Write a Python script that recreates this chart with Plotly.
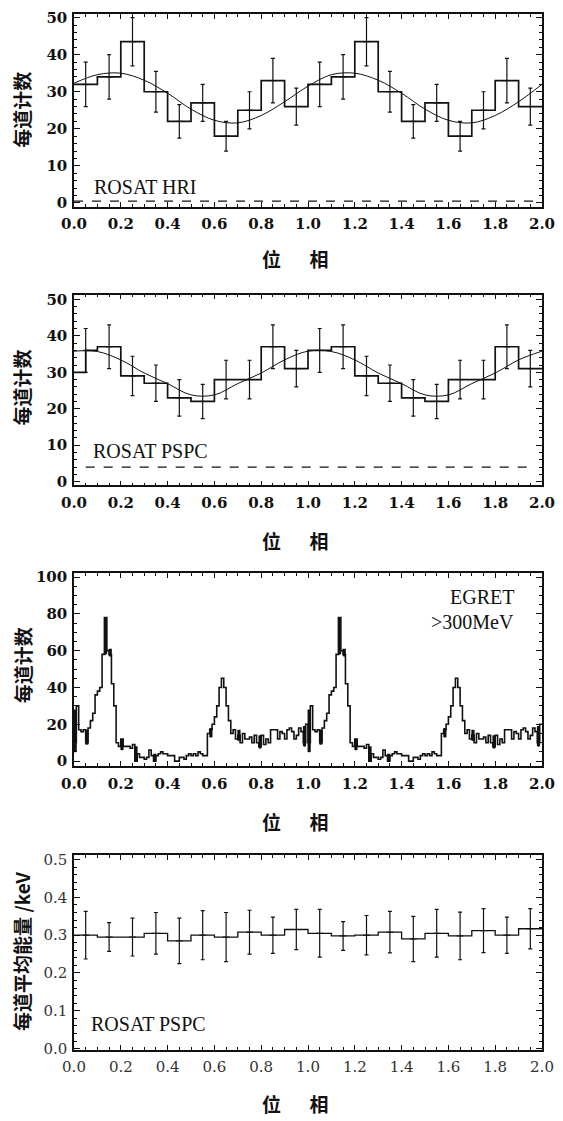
import plotly.graph_objects as go

# ---------------- data ----------------
phase_edges = [round(0.1 * i, 2) for i in range(21)]
phase_centers = [round(0.05 + 0.1 * i, 2) for i in range(20)]

# Panel 1: ROSAT HRI counts per bin (one cycle, repeated)
hri_counts = [32, 34, 43.5, 30, 22, 27, 18, 25, 33, 26]
hri_err = [6, 6, 6.5, 5.5, 4.5, 5, 4, 5, 6, 5]
fit_x = [round(0.1 * i, 2) for i in range(21)]
hri_fit = [32.3, 34.6, 35.0, 33.1, 29.6, 25.3, 22.3, 21.6, 23.6, 27.3, 31.5,
           34.6, 35.0, 33.1, 29.6, 25.3, 22.3, 21.6, 23.6, 27.3, 32.0]
hri_bkg = 0.5

# Panel 2: ROSAT PSPC counts
pspc_edges = [0.0, 0.05, 0.1, 0.2, 0.3, 0.4, 0.5, 0.6, 0.7, 0.8, 0.9, 1.0,
              1.1, 1.2, 1.3, 1.4, 1.5, 1.6, 1.7, 1.8, 1.9, 2.0]
pspc_counts = [30, 36, 37, 29, 27, 23, 22, 28, 28, 37, 31,
               36, 37, 29, 27, 23, 22, 28, 28, 37, 31]
pspc_vals = [36, 37, 29, 27, 23, 22, 28, 28, 37, 31]
pspc_err = [6, 6, 5.4, 5, 5, 4.7, 5.3, 5.3, 6, 5]
pspc_fit = [35.8, 35.7, 33.4, 29.8, 26.9, 23.8, 23.8, 26.9, 29.8, 33.4, 35.8,
            35.7, 33.4, 29.8, 26.9, 23.8, 23.8, 26.9, 29.8, 33.4, 35.8]
pspc_bkg = 4

# Panel 3: EGRET >300 MeV, 0.01 phase bins (one cycle, repeated)
egret_counts = [10, 30, 17, 16, 17, 10, 18, 22, 26, 36,
                38, 40, 58, 78, 60, 58, 42, 30, 10, 8,
                12, 8, 8, 8, 7, 9, 0, 4, 2, 2,
                1, 2, 6, 3, 0, 3, 4, 5, 4, 4,
                3, 3, 3, 0, 0, 2, 2, 1, 3, 4,
                3, 4, 3, 5, 4, 3, 3, 15, 17, 20,
                24, 30, 40, 45, 40, 30, 22, 15, 17, 12,
                14, 10, 15, 12, 12, 13, 10, 14, 10, 8,
                14, 9, 12, 10, 17, 17, 17, 12, 16, 15,
                12, 17, 18, 16, 12, 14, 18, 16, 10, 20]
# heavy vertical marks seen on the EGRET curve (phase, low, high)
egret_mark_phase = [0.005, 0.055, 0.135, 0.155, 0.205, 0.265, 0.345, 0.585, 0.705, 0.795, 0.985]
egret_mark_low = [5, 9, 58, 57, 6, 0, 0, 13, 11, 7, 8]
egret_mark_high = [28, 17, 78, 61, 12, 8, 4, 18, 17, 14, 19]

# Panel 4: ROSAT PSPC mean energy per bin (keV)
energy = [0.300, 0.295, 0.295, 0.305, 0.285, 0.300, 0.295, 0.308, 0.300, 0.315,
          0.305, 0.298, 0.300, 0.308, 0.290, 0.305, 0.298, 0.312, 0.300, 0.317]
energy_err = [0.063, 0.038, 0.05, 0.055, 0.06, 0.065, 0.065, 0.058, 0.048, 0.053,
              0.063, 0.038, 0.052, 0.055, 0.06, 0.063, 0.063, 0.058, 0.048, 0.053]

x_ticks = [0.0, 0.2, 0.4, 0.6, 0.8, 1.0, 1.2, 1.4, 1.6, 1.8, 2.0]

# ---------------- geometry (reference pixel coords; body margin removed) ----------------
WF, HF = 563, 1121
L = 74
R = WF - 542

def py(p):
    return 1 - p / HF

def px(p):
    return (p - L) / (WF - L - R)

domains = [
    [py(204), py(9)],
    [py(486), py(293)],
    [py(770), py(575)],
    [py(1057), py(860)],
]
yranges = [[-1, 51], [-1, 51.3], [-2.7, 102], [-0.003, 0.512]]
ydticks = [10, 10, 20, 0.1]
yminor = [2, 2, 5, 0.02]

fig = go.Figure()
BLACK = "#111111"

def step(edges, vals):
    return list(edges), list(vals) + [vals[-1]]

# Panel 1
ex, ey = step(phase_edges, hri_counts + hri_counts)
fig.add_trace(go.Scatter(x=ex, y=ey, mode="lines", line=dict(shape="hv", color=BLACK, width=1.7),
                         xaxis="x", yaxis="y", showlegend=False))
fig.add_trace(go.Scatter(x=fit_x, y=hri_fit, mode="lines", line=dict(shape="spline", color=BLACK, width=1),
                         xaxis="x", yaxis="y", showlegend=False))
fig.add_trace(go.Scatter(x=phase_centers, y=hri_counts + hri_counts, mode="markers",
                         marker=dict(size=5, symbol="line-ew", line=dict(color=BLACK, width=1)),
                         error_y=dict(type="data", array=hri_err + hri_err, color=BLACK, thickness=1.2, width=2),
                         xaxis="x", yaxis="y", showlegend=False))
fig.add_trace(go.Scatter(x=[0.0, 1.97], y=[hri_bkg, hri_bkg], mode="lines",
                         line=dict(color=BLACK, width=1.3, dash="dash"),
                         xaxis="x", yaxis="y", showlegend=False))

# Panel 2
ex, ey = step(pspc_edges, pspc_counts)
fig.add_trace(go.Scatter(x=ex, y=ey, mode="lines", line=dict(shape="hv", color=BLACK, width=1.7),
                         xaxis="x2", yaxis="y2", showlegend=False))
fig.add_trace(go.Scatter(x=fit_x, y=pspc_fit, mode="lines", line=dict(shape="spline", color=BLACK, width=1),
                         xaxis="x2", yaxis="y2", showlegend=False))
fig.add_trace(go.Scatter(x=phase_centers, y=pspc_vals + pspc_vals, mode="markers",
                         marker=dict(size=5, symbol="line-ew", line=dict(color=BLACK, width=1)),
                         error_y=dict(type="data", array=pspc_err + pspc_err, color=BLACK, thickness=1.2, width=2),
                         xaxis="x2", yaxis="y2", showlegend=False))
fig.add_trace(go.Scatter(x=[0.05, 1.97], y=[pspc_bkg, pspc_bkg], mode="lines",
                         line=dict(color=BLACK, width=1.3, dash="dash"),
                         xaxis="x2", yaxis="y2", showlegend=False))

# Panel 3
eg_edges = [round(0.01 * i, 2) for i in range(201)]
ex, ey = step(eg_edges, egret_counts + egret_counts)
fig.add_trace(go.Scatter(x=ex, y=ey, mode="lines", line=dict(shape="hv", color=BLACK, width=1.6),
                         xaxis="x3", yaxis="y3", showlegend=False))
mk_x = egret_mark_phase + [p + 1.0 for p in egret_mark_phase]
mk_lo = egret_mark_low + egret_mark_low
mk_span = [h - l for h, l in zip(egret_mark_high, egret_mark_low)] * 2
fig.add_trace(go.Scatter(x=mk_x, y=mk_lo, mode="markers", marker=dict(size=1, color=BLACK),
                         error_y=dict(type="data", array=mk_span, arrayminus=[0] * len(mk_span),
                                      color=BLACK, thickness=3.2, width=0),
                         xaxis="x3", yaxis="y3", showlegend=False))

# Panel 4
ex, ey = step(phase_edges, energy)
fig.add_trace(go.Scatter(x=ex, y=ey, mode="lines", line=dict(shape="hv", color=BLACK, width=1.3),
                         xaxis="x4", yaxis="y4", showlegend=False))
fig.add_trace(go.Scatter(x=phase_centers, y=energy, mode="markers",
                         marker=dict(size=5, symbol="line-ew", line=dict(color=BLACK, width=1)),
                         error_y=dict(type="data", array=energy_err, color=BLACK, thickness=1.2, width=2),
                         xaxis="x4", yaxis="y4", showlegend=False))

tickfont = dict(family="DejaVu Serif", size=15, color=BLACK, weight="bold")
tickfont4 = dict(family="DejaVu Serif", size=15, color="#333333")
layout = dict(
    width=WF, height=HF,
    margin=dict(l=L, r=R, t=0, b=0),
    paper_bgcolor="white", plot_bgcolor="white",
)
for i in range(4):
    s = "" if i == 0 else str(i + 1)
    tf = tickfont4 if i == 3 else tickfont
    layout["xaxis" + s] = dict(
        domain=[0, 1], range=[0, 2], anchor="y" + s,
        tickvals=x_ticks, ticktext=[f"{v:.1f}" for v in x_ticks],
        ticks="inside", ticklen=5, tickwidth=1.2, tickcolor=BLACK,
        minor=dict(dtick=0.05, ticks="inside", ticklen=3, tickcolor=BLACK),
        showline=True, linecolor=BLACK, linewidth=1.5, mirror="ticks",
        showgrid=False, zeroline=False, tickfont=tf, ticklabelstandoff=3,
        ticklabeloverflow="allow",
    )
    layout["yaxis" + s] = dict(
        domain=domains[i], range=yranges[i], anchor="x" + s,
        dtick=ydticks[i], tick0=0,
        tickformat=".1f" if i == 3 else "d",
        ticks="inside", ticklen=6, tickwidth=1.2, tickcolor=BLACK,
        minor=dict(dtick=yminor[i], ticks="inside", ticklen=3, tickcolor=BLACK),
        showline=True, linecolor=BLACK, linewidth=1.5, mirror="ticks",
        showgrid=False, zeroline=False, tickfont=tf, ticklabelstandoff=2,
        ticklabeloverflow="allow",
    )
fig.update_layout(**layout)

cjk = dict(family="Noto Sans CJK SC", size=19, color=BLACK, weight="bold")
serif = dict(family="Liberation Serif", size=20, color=BLACK)

def note(text, x, y, font, xanchor="center", angle=0):
    return dict(text=text, x=px(x), y=py(y), xref="paper", yref="paper",
                xanchor=xanchor, yanchor="middle", textangle=angle,
                showarrow=False, font=font)

ann = []
for yc in [106, 387, 668]:
    ann.append(note("每道计数", 22, yc, cjk, angle=-90))
ann.append(note("每道平均能量 /keV", 22, 958, cjk, angle=-90))
for yc in [256, 542, 826, 1111]:
    ann.append(note("位\u3000\u2002相", 295, yc, cjk))
ann.append(note("ROSAT HRI", 92, 184, serif, xanchor="left"))
ann.append(note("ROSAT PSPC", 91, 451, serif, xanchor="left"))
ann.append(note("EGRET", 516, 599, serif, xanchor="right"))
ann.append(note(">300MeV", 516, 624, serif, xanchor="right"))
ann.append(note("ROSAT PSPC", 89, 1031, serif, xanchor="left"))
fig.update_layout(annotations=ann)

fig.write_html("out.html", config={"displayModeBar": False},
               post_script="document.body.style.margin='0px';")
